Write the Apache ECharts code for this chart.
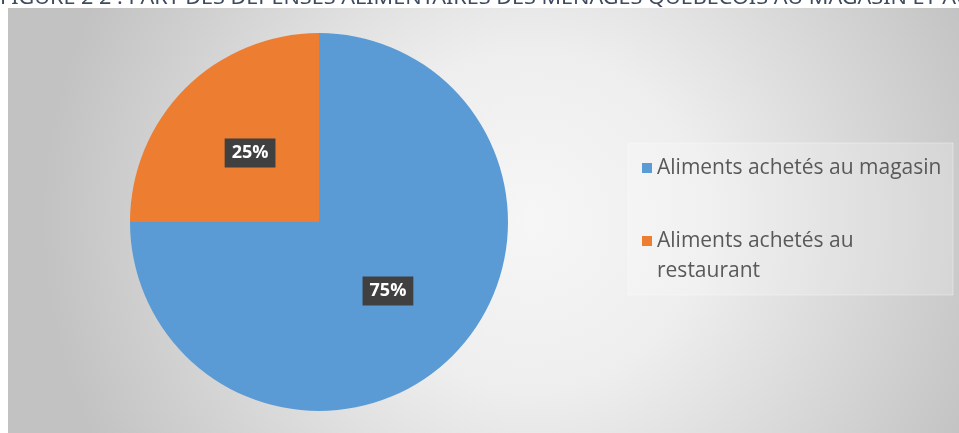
<!DOCTYPE html>
<html>
<head>
<meta charset="utf-8">
<script src="https://cdn.jsdelivr.net/npm/echarts@6/dist/echarts.min.js"></script>
<style>
html,body{margin:0;padding:0;background:#fff;}
#c{width:959px;height:433px;}
</style>
</head>
<body>
<div id="c"></div>
<script>
const names = ['Aliments achetés au magasin', 'Aliments achetés au restaurant'];
const shares = [75, 25];
const colors = ['#5B9BD5', '#ED7D31'];
const titleText = 'FIGURE 2 2 : PART DES DÉPENSES ALIMENTAIRES DES MÉNAGES QUÉBÉCOIS AU MAGASIN ET AU RESTAURANT';

const legendText = {fontFamily:'"Open Sans"', fontSize:21, color:'#595959', lineHeight:30};

const chart = echarts.init(document.getElementById('c'));
chart.setOption({
  animation: false,
  graphic: [
    {type:'rect', z:-10, shape:{x:8,y:8,width:951,height:425},
      style:{fill:new echarts.graphic.RadialGradient(0.55,0.5,1.15,[
        {offset:0,color:'#f6f6f6'},{offset:0.35,color:'#eeeeee'},{offset:1,color:'#c2c2c2'}])}},
    {type:'rect', z:-9, shape:{x:628,y:143,width:325,height:152},
      style:{fill:'rgba(255,255,255,0.22)', stroke:'rgba(255,255,255,0.35)', lineWidth:1}},
    {type:'text', z:5, x:0, y:8, scaleX:1.08,
      style:{text:titleText, fill:'#3E4B5E', font:'20px "Noto Sans"', verticalAlign:'bottom'}}
  ],
  legend: [
    {left:642, top:153, padding:0, itemWidth:10, itemHeight:10, itemGap:5, icon:'rect',
      textStyle:legendText, data:[names[0]]},
    {left:642, top:196, padding:0, itemWidth:10, itemHeight:10, itemGap:5, icon:'rect',
      textStyle:legendText, data:[names[1]],
      formatter: () => '\u00a0\nAliments achetés au\nrestaurant'}
  ],
  series: [{
    type:'pie', center:[319,222], radius:189, startAngle:90,
    label:{show:true, position:'inside', formatter:'{c}%', color:'#fff', fontFamily:'"Open Sans"',
      fontWeight:'bold', fontSize:18, backgroundColor:'#404040', padding:[6,7,5,7]},
    labelLine:{show:false},
    emphasis:{disabled:true},
    data: names.map((n,i)=>({name:n, value:shares[i], itemStyle:{color:colors[i]}}))
  }]
});
</script>
</body>
</html>
